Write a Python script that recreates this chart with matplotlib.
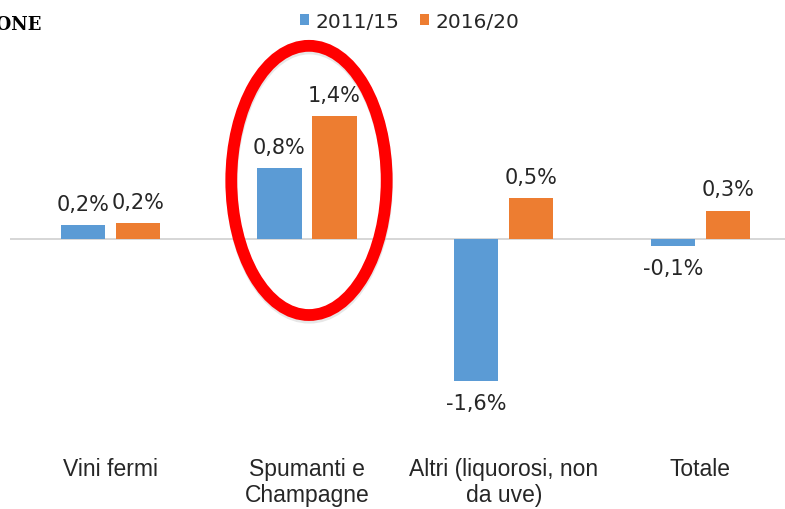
import matplotlib.pyplot as plt
import numpy as np
from matplotlib.patches import Ellipse

# Dati
categorie = ['Vini fermi', 'Spumanti e\nChampagne', 'Altri (liquorosi, non\nda uve)', 'Totale']
serie = ['2011/15', '2016/20']
val_2011 = [0.16, 0.8, -1.6, -0.08]
val_2016 = [0.18, 1.39, 0.46, 0.32]
etich_2011 = ['0,2%', '0,8%', '-1,6%', '-0,1%']
etich_2016 = ['0,2%', '1,4%', '0,5%', '0,3%']

blu = '#5B9BD5'
arancio = '#ED7D31'

fig = plt.figure(figsize=(7.85, 5.1), dpi=100)
ax = fig.add_axes([10 / 785, 1 - 440 / 510, 775 / 785, 410 / 510])

x = np.arange(len(categorie))
w = 0.225
off = 0.14
b1 = ax.bar(x - off, val_2011, w, color=blu, label=serie[0])
b2 = ax.bar(x + off, val_2016, w, color=arancio, label=serie[1])

for bars, labs in [(b1, etich_2011), (b2, etich_2016)]:
    for b, t in zip(bars, labs):
        h = b.get_height()
        if h >= 0:
            ax.annotate(t, (b.get_x() + b.get_width() / 2, h), xytext=(0, 8),
                        textcoords='offset points', ha='center', va='bottom',
                        fontsize=15, color='#262626')
        else:
            ax.annotate(t, (b.get_x() + b.get_width() / 2, h), xytext=(0, -9),
                        textcoords='offset points', ha='center', va='top',
                        fontsize=15, color='#262626')

ax.axhline(0, color='#d0d0d0', lw=1.2, zorder=0)
ax.set_xlim(-0.51, 3.43)
ax.set_ylim(-2.26, 2.37)
ax.set_yticks([])
ax.set_xticks(x)
ax.set_xticklabels(categorie, fontsize=16.5, family=['Liberation Sans', 'DejaVu Sans'],
                   color='#262626', linespacing=1.15)
ax.tick_params(axis='x', length=0, pad=13)
for s in ax.spines.values():
    s.set_visible(False)

# ellisse rossa attorno agli spumanti (con leggera ombra)
ombra = Ellipse((x[1] + 0.012, 0.63), 0.79, 3.04, fill=False, edgecolor='#bbbbbb',
                lw=8.5, alpha=0.35, zorder=4)
ax.add_patch(ombra)
ell = Ellipse((x[1] + 0.01, 0.66), 0.79, 3.04, fill=False, edgecolor='#FF0000', lw=8.5, zorder=5)
ax.add_patch(ell)

fig.legend(loc='upper center', bbox_to_anchor=(0.522, 1.01), ncol=2, frameon=False,
           fontsize=14.5, handlelength=0.45, handleheight=0.45, handletextpad=0.35,
           columnspacing=1.0, labelcolor='#262626')

fig.text(42 / 785, 1 - 25 / 510, 'ZIONE', ha='right', va='center', fontsize=13,
         fontweight='bold', family='DejaVu Serif')

fig.savefig('out.png', dpi=100)
